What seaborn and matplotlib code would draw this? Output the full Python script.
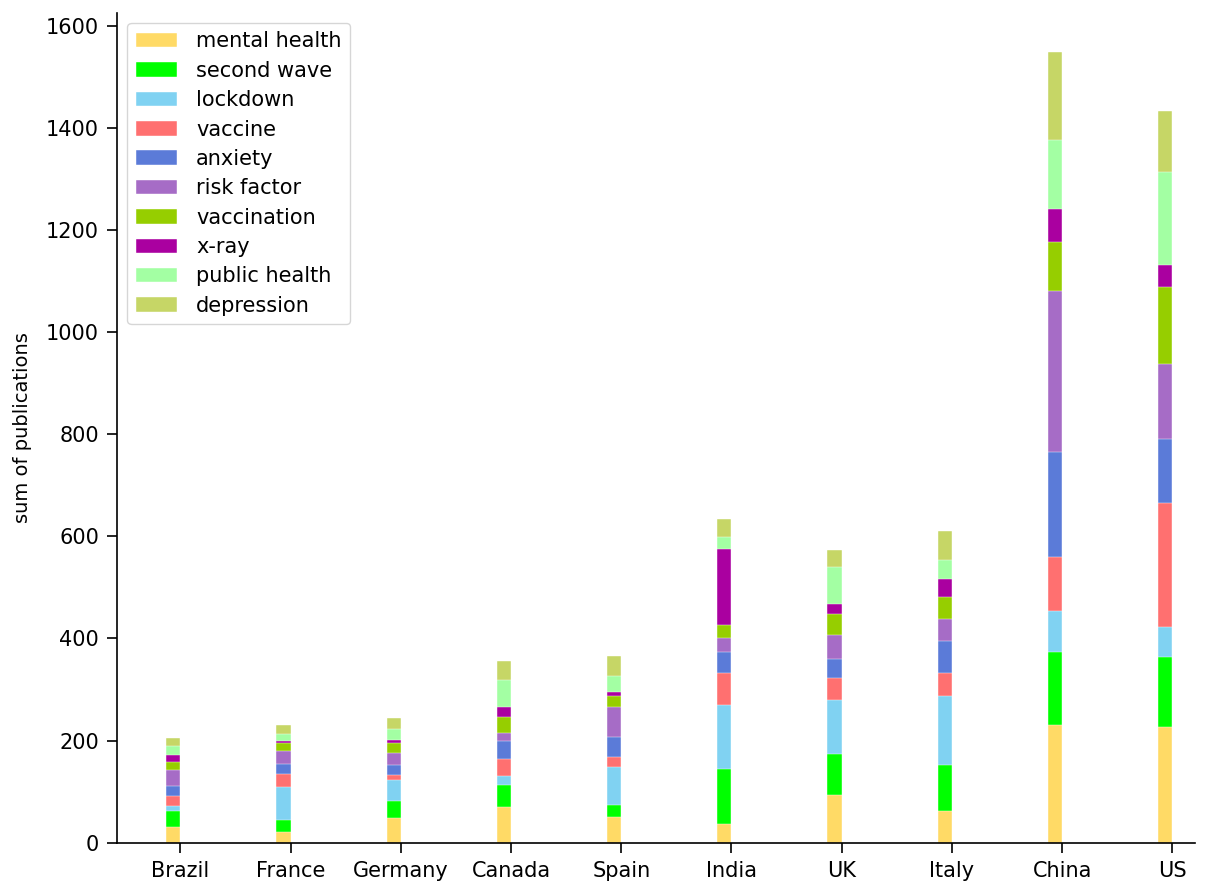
import numpy as np
import pandas as pd
import matplotlib
matplotlib.use("Agg")
import matplotlib.pyplot as plt
import seaborn as sns

countries = ["Brazil", "France", "Germany", "Canada", "Spain", "India", "UK", "Italy", "China", "US"]
topics = ["mental health", "second wave", "lockdown", "vaccine", "anxiety",
          "risk factor", "vaccination", "x-ray", "public health", "depression"]

mental_health = [31, 21, 49, 69, 51, 36, 93, 62, 231, 227]
second_wave = [31, 24, 33, 44, 23, 109, 80, 90, 142, 137]
lockdown = [9, 64, 40, 18, 75, 124, 106, 135, 80, 58]
vaccine = [20, 25, 11, 33, 19, 64, 43, 46, 107, 244]
anxiety = [20, 20, 19, 36, 40, 40, 38, 62, 206, 125]
risk_factor = [31, 26, 23, 15, 57, 27, 47, 43, 314, 147]
vaccination = [16, 16, 21, 31, 22, 26, 41, 44, 97, 150]
x_ray = [14, 3, 5, 19, 9, 149, 19, 34, 64, 43]
public_health = [17, 14, 21, 54, 31, 24, 73, 37, 136, 183]
depression = [16, 18, 22, 36, 39, 34, 33, 58, 171, 118]

colors = ["#FFDA66", "#00FF00", "#80D2F2", "#FF7070", "#5B7BD8",
          "#A66CC6", "#96CE00", "#AA00A0", "#A3FFA3", "#C6D666"]

series = [mental_health, second_wave, lockdown, vaccine, anxiety,
          risk_factor, vaccination, x_ray, public_health, depression]

df = pd.DataFrame({t: s for t, s in zip(topics, series)}, index=countries)
cum = df.cumsum(axis=1)

sns.set_style("ticks")
plt.rcParams["font.family"] = ["DejaVu Sans"]
plt.rcParams["font.size"] = 15
for k in ["text.color", "axes.labelcolor", "xtick.color", "ytick.color"]:
    plt.rcParams[k] = "black"

fig = plt.figure(figsize=(12.14, 8.84), dpi=100)
ax = fig.add_axes([0.0964, 0.0467, 0.9843 - 0.0964, 0.9856 - 0.0467])

bar_w = 0.13
for topic, col in reversed(list(zip(topics, colors))):
    d = pd.DataFrame({"country": countries, "value": cum[topic].values})
    sns.barplot(data=d, x="country", y="value", order=countries, color=col,
                width=bar_w, errorbar=None, label=topic, ax=ax,
                saturation=1, edgecolor="white", linewidth=0.3)

handles, labels = ax.get_legend_handles_labels()
hmap = dict(zip(labels, handles))
leg = ax.legend([hmap[t] for t in topics], topics, loc="upper left", fontsize=15,
                frameon=True, handletextpad=0.9, labelspacing=0.45)
leg.get_frame().set_edgecolor("#cccccc")

ax.set_xticks(np.arange(len(countries)) + bar_w / 2)
ax.set_xticklabels(countries, fontsize=15)
ax.set_xlim(-0.51, 9.27)
ax.set_ylim(0, 1.05 * cum[topics[-1]].max())
ax.set_yticks(np.arange(0, 1601, 200))
ax.tick_params(axis="both", labelsize=15, length=7, width=1.2, color="black", pad=6)
ax.set_xlabel("")
ax.set_ylabel("sum of publications", fontsize=14, labelpad=10)
sns.despine(ax=ax)
for sp in ["left", "bottom"]:
    ax.spines[sp].set_linewidth(1.2)
    ax.spines[sp].set_color("black")

fig.savefig("out.png", dpi=100)
